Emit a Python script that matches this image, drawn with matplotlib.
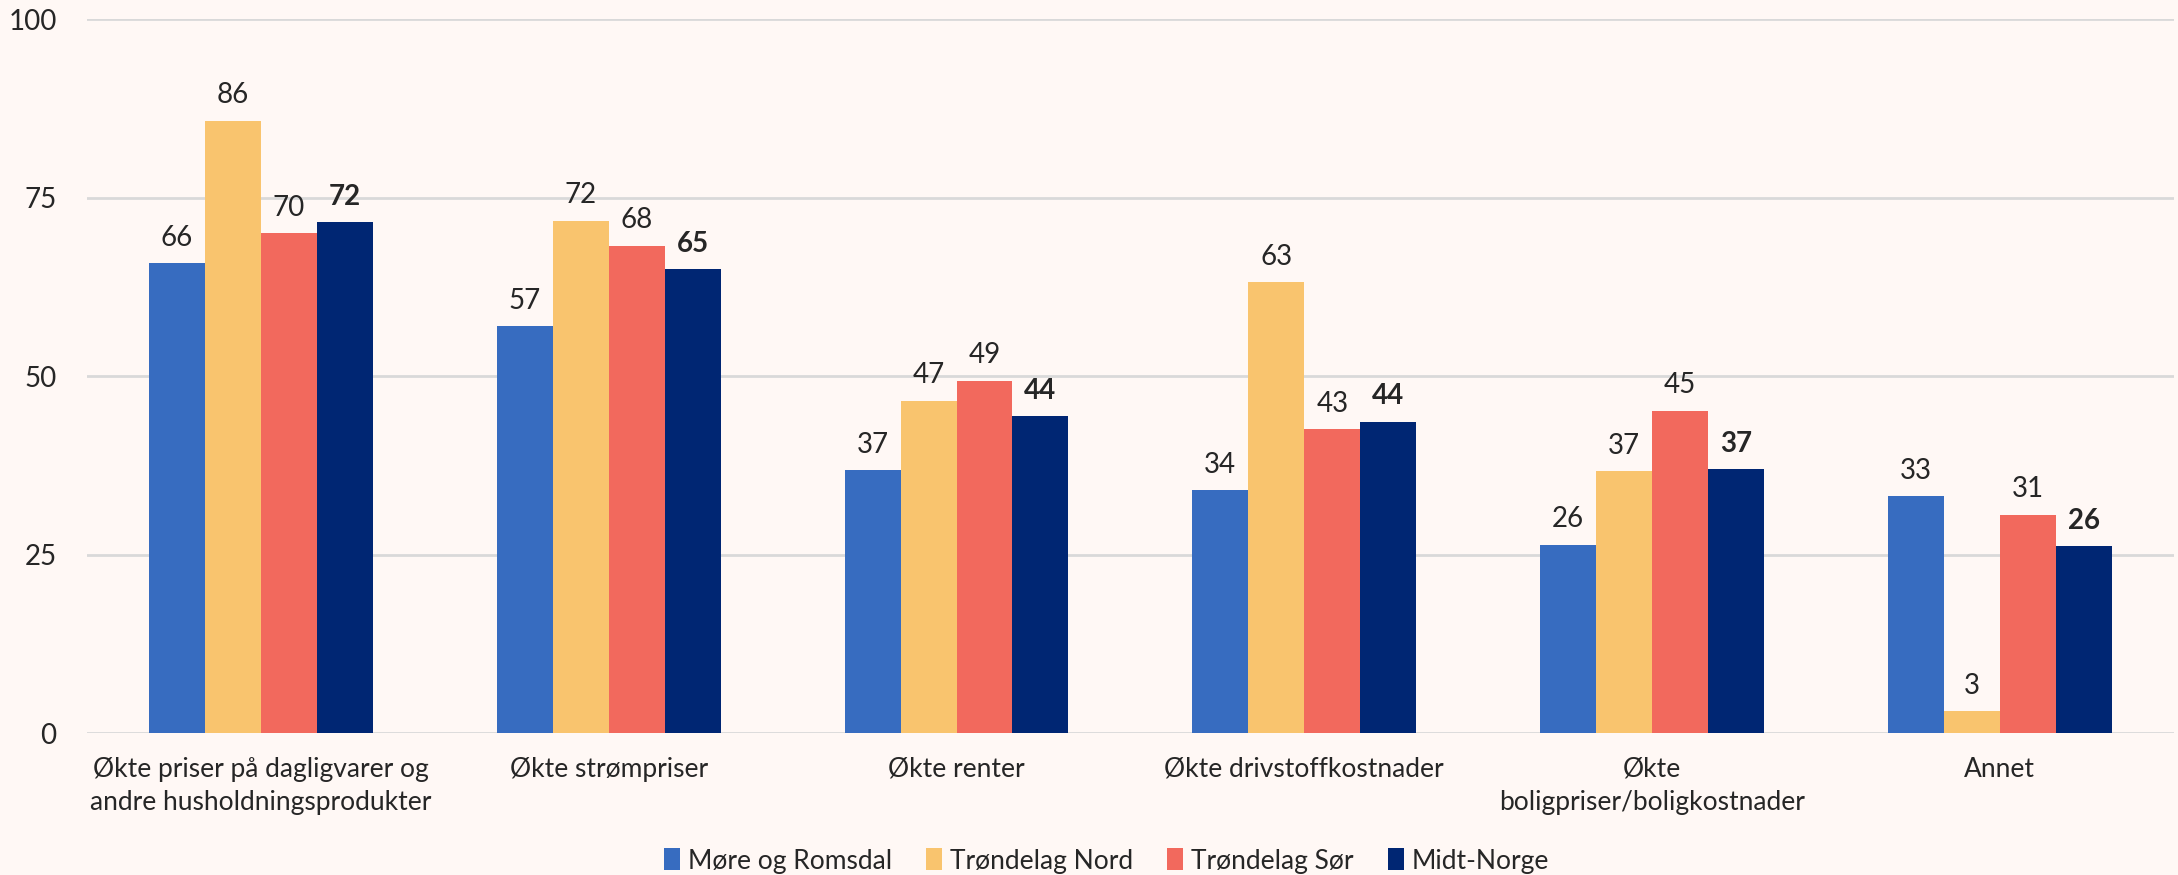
import matplotlib
matplotlib.use("Agg")
import matplotlib.pyplot as plt
import numpy as np

plt.rcParams['font.family'] = ['Lato', 'DejaVu Sans']

categories = ["Økte priser på dagligvarer og\nandre husholdningsprodukter",
              "Økte strømpriser",
              "Økte renter",
              "Økte drivstoffkostnader",
              "Økte\nboligpriser/boligkostnader",
              "Annet"]
series_names = ["Møre og Romsdal", "Trøndelag Nord", "Trøndelag Sør", "Midt-Norge"]
more_romsdal = [65.8, 57.0, 36.8, 34.0, 26.4, 33.2]
trondelag_nord = [85.8, 71.8, 46.6, 63.2, 36.7, 3.1]
trondelag_sor = [70.0, 68.3, 49.4, 42.6, 45.2, 30.6]
midt_norge = [71.6, 65.0, 44.4, 43.6, 37.0, 26.2]
yticks = [0, 25, 50, 75, 100]

colors = ["#376CC0", "#F9C46E", "#F2695D", "#002673"]
bg = "#FFF8F5"
txt = "#262626"

fig = plt.figure(figsize=(21.78, 8.75), dpi=100, facecolor=bg)
ax = fig.add_axes([0.040, 0.162, 0.958, 0.816], facecolor=bg)

x = np.arange(len(categories))
w = 0.161
data = [more_romsdal, trondelag_nord, trondelag_sor, midt_norge]
for i, (vals, name, c) in enumerate(zip(data, series_names, colors)):
    pos = x + (i - 1.5) * w
    bars = ax.bar(pos, vals, width=w, color=c, label=name, zorder=3)
    for b, v in zip(bars, vals):
        ax.annotate(f"{round(v):d}", (b.get_x() + b.get_width() / 2, v),
                    xytext=(0, 9), textcoords="offset points",
                    ha="center", va="bottom", fontsize=20, color=txt,
                    fontweight="bold" if i == 3 else "normal")

ax.set_xlim(-0.5, len(categories) - 0.5)
ax.set_ylim(0, 100)
ax.set_yticks(yticks)
ax.set_yticklabels([str(t) for t in yticks], fontsize=20, color=txt)
ax.set_xticks(x)
ax.set_xticklabels(categories, fontsize=19, color=txt, linespacing=1.4)
ax.tick_params(axis='both', length=0)
ax.tick_params(axis='x', pad=17)
ax.tick_params(axis='y', pad=22)
ax.grid(axis='y', color="#D9D9D9", linewidth=2, zorder=0)
for s in ax.spines.values():
    s.set_visible(False)

fig.legend(loc="center", bbox_to_anchor=(0.508, 0.016), ncol=4, frameon=False,
           fontsize=19, handlelength=0.6, handleheight=0.9, handletextpad=0.3,
           columnspacing=1.3, labelcolor=txt)

fig.savefig("out.png", dpi=100, facecolor=bg)
